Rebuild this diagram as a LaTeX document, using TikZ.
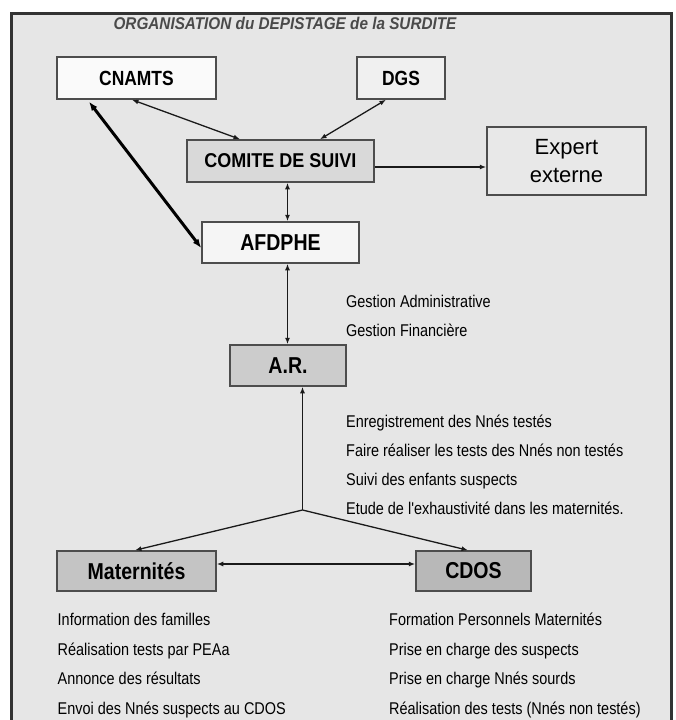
\documentclass[tikz,border=0pt]{standalone}
\usepackage{fontspec}
\setmainfont{Liberation Sans}
\newfontfamily\narrow[FakeStretch=0.85]{Liberation Sans}
\newfontfamily\comitefont[FakeStretch=0.9]{Liberation Sans}
\newfontfamily\titlefont[FakeStretch=0.9]{Liberation Sans}
\usetikzlibrary{arrows.meta}
\definecolor{bg}{HTML}{E6E6E6}
\definecolor{framec}{HTML}{333333}
\definecolor{boxline}{HTML}{4D4D4D}
\definecolor{lineclr}{HTML}{1A1A1A}
\definecolor{titleclr}{HTML}{4A4A4A}
\tikzset{
  box/.style={draw=boxline, line width=1.5pt, inner sep=0pt, align=center},
  lbl/.style={font=\narrow\bfseries\fontsize{20.5}{24}\selectfont},
  biglbl/.style={font=\narrow\bfseries\fontsize{23}{26}\selectfont},
  item/.style={anchor=base west, inner sep=0pt, text=black, font=\narrow\fontsize{17}{20}\selectfont},
  link/.style={draw=lineclr, line width=1.3pt},
  both/.style={link, {Latex[length=6.5pt,width=5pt]}-{Latex[length=6.5pt,width=5pt]}},
  oneway/.style={link, -{Latex[length=6.5pt,width=5pt]}},
  heavy/.style={draw=black, line width=3pt, {Latex[length=9pt,width=7pt]}-{Latex[length=9pt,width=7pt]}}
}
\begin{document}
\begin{tikzpicture}[x=1pt,y=-1pt]
\useasboundingbox (0,0) rectangle (676,720);
\clip (0,0) rectangle (676,720);
\fill[white] (0,0) rectangle (676,720);
\fill[bg] (11.5,13) rectangle (671,740);
\draw[framec, line width=3pt] (11.5,740) -- (11.5,13) -- (671,13) -- (671,740);

% title
\node[inner sep=0pt, text=titleclr, font=\titlefont\bfseries\itshape\fontsize{17}{20}\selectfont] (title) at (285,23) {ORGANISATION du DEPISTAGE de la SURDITE};

% boxes
\node[box, lbl, fill=white!98!black, minimum width=159pt, minimum height=42pt] (cnamts) at (136.5,78) {CNAMTS};
\node[box, lbl, fill=white!94!black, minimum width=88pt, minimum height=42pt] (dgs) at (401,78) {DGS};
\node[box, fill=white!85!black, minimum width=187pt, minimum height=42pt, font=\comitefont\bfseries\fontsize{20}{24}\selectfont] (comite) at (280.5,161) {COMITE DE SUIVI};
\node[box, fill=white!91!black, minimum width=159pt, minimum height=68pt, font=\fontsize{22}{28}\selectfont] (expert) at (566.5,161) {Expert\\externe};
\node[box, fill=white!96!black, minimum width=157pt, minimum height=41pt, font=\narrow\bfseries\fontsize{23}{26}\selectfont] (afdphe) at (280.5,242.5) {AFDPHE};
\node[box, biglbl, fill=white!80!black, minimum width=116pt, minimum height=41pt] (ar) at (288,365.5) {A.R.};
\node[box, biglbl, fill=white!77!black, minimum width=159pt, minimum height=40pt] (mat) at (136.5,571) {Maternités};
\node[box, biglbl, fill=white!72!black, minimum width=115pt, minimum height=40pt] (cdos) at (473.5,571) {CDOS};

% texts
\node[item] (g1) at (346,307) {Gestion Administrative};
\node[item] (g2) at (346,336) {Gestion Financière};

\node[item] (a1) at (346,427) {Enregistrement des Nnés testés};
\node[item] (a2) at (346,456) {Faire réaliser les tests des Nnés non testés};
\node[item] (a3) at (346,485) {Suivi des enfants suspects};
\node[item] (a4) at (346,514) {Etude de l'exhaustivité dans les maternités.};

\node[item] (m1) at (57.5,625) {Information des familles};
\node[item] (m2) at (57.5,655) {Réalisation tests par PEAa};
\node[item] (m3) at (57.5,684) {Annonce des résultats};
\node[item] (m4) at (57.5,714) {Envoi des Nnés suspects au CDOS};

\node[item] (c1) at (389,625) {Formation Personnels Maternités};
\node[item] (c2) at (389,655) {Prise en charge des suspects};
\node[item] (c3) at (389,684) {Prise en charge Nnés sourds};
\node[item] (c4) at (389,714) {Réalisation des tests (Nnés non testés)};

% connectors
\draw[both] ([xshift=-4.5pt]cnamts.south) -- ([xshift=-40.5pt]comite.north);
\draw[both] ([xshift=-15pt]dgs.south) -- ([xshift=39.5pt]comite.north);
\draw[heavy] ([xshift=-47.5pt,yshift=-2pt]cnamts.south) -- ([yshift=-5.5pt]afdphe.west);
\draw[oneway] ([yshift=-6pt]comite.east) -- ([yshift=-6pt]expert.west);
\draw[both] ([xshift=7pt]comite.south) -- ([xshift=7pt]afdphe.north);
\draw[both] ([xshift=7pt]afdphe.south) -- ([xshift=7pt]afdphe.south |- ar.north);
\coordinate (J) at (302.5,510);
\draw[oneway] (J) -- (J |- ar.south);
\draw[oneway] (J) -- ([xshift=-1.5pt]mat.north);
\draw[oneway] (J) -- ([xshift=-5.5pt]cdos.north);
\draw[both] ([yshift=7pt]mat.east) -- ([yshift=7pt]cdos.west);
\end{tikzpicture}
\end{document}
